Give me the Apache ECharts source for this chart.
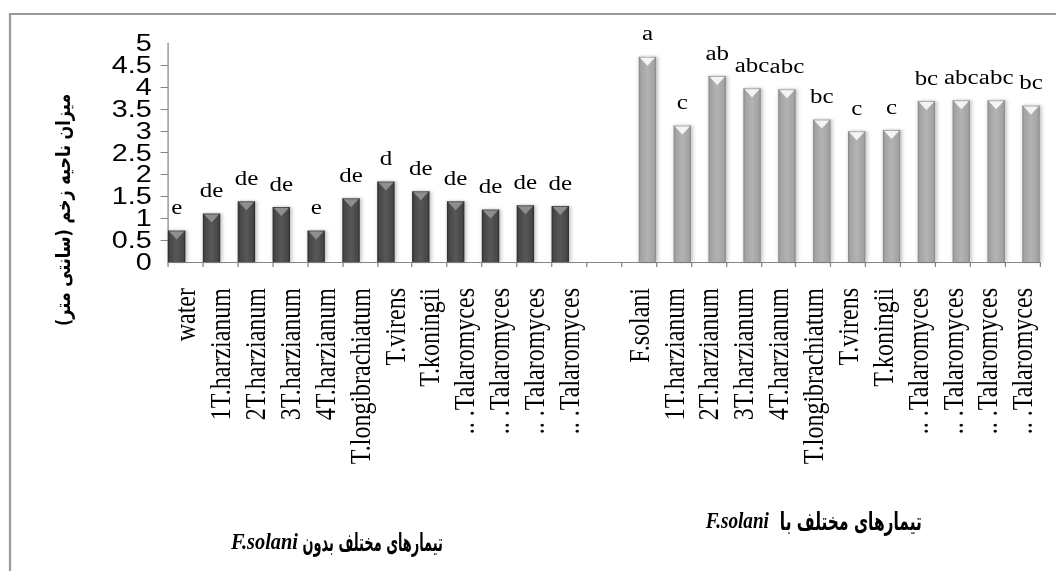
<!DOCTYPE html>
<html><head><meta charset="utf-8">
<script src="https://cdn.jsdelivr.net/npm/echarts@6/dist/echarts.min.js"></script>
<style>
html,body{margin:0;padding:0;background:#fff;overflow:hidden}
#wrap{width:1056px;height:571px;overflow:hidden;position:relative}
#c{width:845px;height:571px;transform:scaleX(1.2497);transform-origin:0 0}
</style>
</head><body><div id="wrap"><div id="c"></div></div>
<script>
// ---- data ----
const groupWithout = ['water','1T.harzianum','2T.harzianum','3T.harzianum','4T.harzianum','T.longibrachiatum','T.virens','T.koningii','.. .Talaromyces','.. .Talaromyces','.. .Talaromyces','.. .Talaromyces'];
const groupWith = ['F.solani','1T.harzianum','2T.harzianum','3T.harzianum','4T.harzianum','T.longibrachiatum','T.virens','T.koningii','.. .Talaromyces','.. .Talaromyces','.. .Talaromyces','.. .Talaromyces'];
const withoutValues = [0.72,1.11,1.39,1.26,0.72,1.46,1.84,1.62,1.39,1.20,1.30,1.28];
const withValues = [4.69,3.12,4.25,3.97,3.95,3.26,2.99,3.02,3.68,3.70,3.70,3.58];
const withoutLetters = ['e','de','de','de','e','de','d','de','de','de','de','de'];
const withLetters = ['a','c','ab','abc','abc','bc','c','c','bc','abc','abc','bc'];
const yMin = 0, yMax = 5, yStep = 0.5;
const yTitle = 'میزان ناحیه زخم (سانتی متر)';
const titleWithout = 'تیمارهای مختلف بدون';
const titleWith = 'تیمارهای مختلف با';
const pathogen = 'F.solani';

// ---- build ----
const categories = groupWithout.concat([''], groupWith);
const gap = n => Array(n).fill('-');
const darkData = withoutValues.concat(gap(1 + withValues.length));
const lightData = gap(withoutValues.length + 1).concat(withValues);
const darkLetters = withoutLetters.concat(Array(1 + withLetters.length).fill(''));
const lightLetters = Array(withoutLetters.length + 1).fill('').concat(withLetters);

const grad = (e, m, c) => ({type:'linear',x:0,y:0,x2:1,y2:0,colorStops:[
  {offset:0,color:e},{offset:0.12,color:m},{offset:0.5,color:c},{offset:0.88,color:m},{offset:1,color:e}]});

const labelStyle = {show:true, position:'top', distance:13, fontFamily:'"Liberation Serif", serif', fontSize:20, color:'#000'};
const persianFont = '"DejaVu Sans Condensed", "DejaVu Sans", sans-serif';
const latinTitle = {fontFamily:'"Liberation Serif", serif', fontStyle:'italic', fontWeight:'bold', fontSize:24, fill:'#000', align:'left', verticalAlign:'middle'};
const persianTitle = {fontFamily:persianFont, fontWeight:'bold', fontSize:25, fill:'#000', align:'right', verticalAlign:'middle'};
const yLabelFont = {fontFamily:'"Liberation Sans", Arial, sans-serif', fontSize:23, color:'#000', margin:13};
const isWhole = v => Math.abs(v - Math.round(v)) < 1e-9;

const chart = echarts.init(document.getElementById('c'), null, {renderer:'svg'});
chart.setOption({
  animation:false,
  backgroundColor:'#fff',
  grid:{left:134.4, right:13, top:43.3, bottom:309},
  xAxis:{
    type:'category', data:categories,
    axisLine:{lineStyle:{color:'#868686', width:1}},
    axisTick:{show:true, interval:0, length:5, lineStyle:{color:'#868686'}},
    axisLabel:{interval:0, rotate:90, margin:26, fontFamily:'"Liberation Serif", serif', fontSize:24, color:'#000'}
  },
  yAxis:[
    { // whole-number labels
      type:'value', position:'left', min:yMin, max:yMax, interval:1,
      axisLine:{show:true, lineStyle:{color:'#868686', width:1}},
      axisTick:{show:false}, splitLine:{show:false},
      axisLabel:Object.assign({showMinLabel:true, showMaxLabel:true}, yLabelFont)
    },
    { // half-step ticks and labels
      type:'value', position:'left', min:yMin, max:yMax, interval:yStep,
      axisLine:{show:false},
      axisTick:{show:true, length:6, lineStyle:{color:'#868686'}}, splitLine:{show:false},
      axisLabel:Object.assign({showMinLabel:false, showMaxLabel:false, hideOverlap:false,
        formatter:v => isWhole(v) ? '' : String(v)}, yLabelFont)
    }
  ],
  series:[
    {type:'bar', data:darkData, barGap:'0%', barCategoryGap:'0%',
     itemStyle:{color:grad('#2a2a2a','#474747','#575757'), shadowColor:'rgba(0,0,0,0.3)', shadowBlur:3, shadowOffsetX:1},
     label:Object.assign({formatter:p => darkLetters[p.dataIndex]}, labelStyle)},
    {type:'bar', data:lightData, barGap:'0%', barCategoryGap:'0%',
     itemStyle:{color:grad('#858585','#a3a3a3','#b3b3b3'), shadowColor:'rgba(0,0,0,0.3)', shadowBlur:3, shadowOffsetX:1},
     label:Object.assign({formatter:p => lightLetters[p.dataIndex]}, labelStyle)},
    {type:'pictorialBar', data:darkData, barGap:'0%', barCategoryGap:'0%', z:5,
     symbol:'triangle', symbolRotate:180, symbolSize:[12,8], symbolPosition:'end', symbolOffset:[0,1],
     itemStyle:{color:'#8e8e8e'}},
    {type:'pictorialBar', data:lightData, barGap:'0%', barCategoryGap:'0%', z:5,
     symbol:'triangle', symbolRotate:180, symbolSize:[12,8], symbolPosition:'end', symbolOffset:[0,1],
     itemStyle:{color:'#f4f4f4'}}
  ],
  graphic:[
    {type:'rect', z:-1, shape:{x:8, y:14, width:3000, height:3000}, style:{fill:'none', stroke:'#9a9a9a', lineWidth:1.8}},
    {type:'text', x:50, y:210, rotation:Math.PI/2,
     style:{text:'\u200F' + yTitle + '\u200F', fontFamily:'"DejaVu Sans", sans-serif', fontWeight:'bold', fontSize:16, fill:'#000', align:'center', verticalAlign:'middle'}},
    {type:'text', x:184.8, y:541, scaleX:0.68, style:Object.assign({text:pathogen}, latinTitle)},
    {type:'text', x:354.4, y:542, scaleX:0.46, style:Object.assign({text:titleWithout}, persianTitle)},
    {type:'text', x:564.8, y:520, scaleX:0.64, style:Object.assign({text:pathogen}, latinTitle)},
    {type:'text', x:737.6, y:521, scaleX:0.55, style:Object.assign({text:titleWith}, persianTitle)}
  ]
});
</script></body></html>
